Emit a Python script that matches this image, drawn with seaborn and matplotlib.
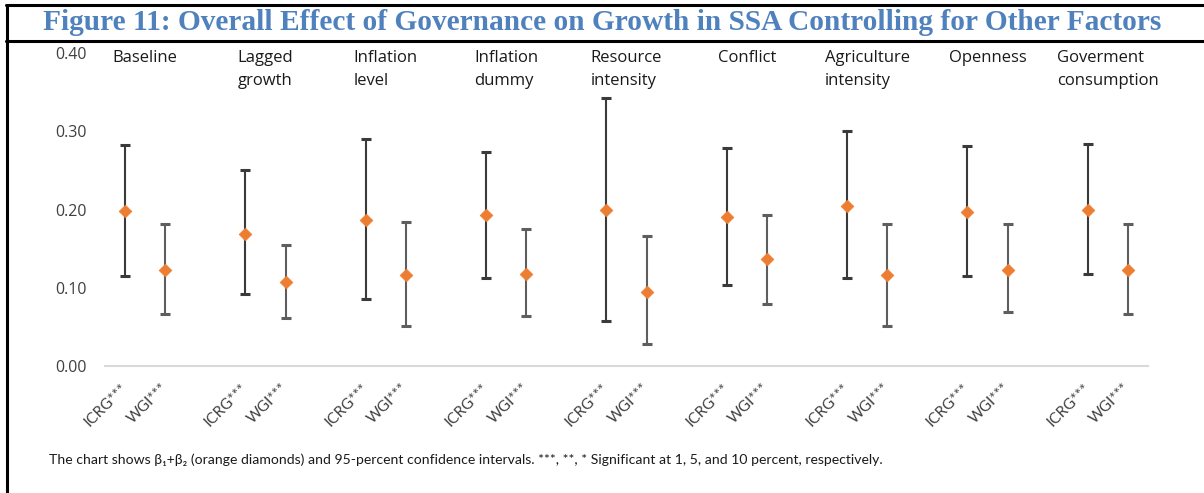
import matplotlib
matplotlib.use("Agg")
import matplotlib.pyplot as plt
from matplotlib.lines import Line2D
import matplotlib.transforms as mtransforms
import numpy as np
import pandas as pd
import seaborn as sns

# Specifications (one group per control variable)
groups = ["Baseline", "Lagged\ngrowth", "Inflation\nlevel", "Inflation\ndummy",
          "Resource\nintensity", "Conflict", "Agriculture\nintensity", "Openness",
          "Goverment\nconsumption"]
indices = ["ICRG", "WGI"]
tick_labels = ["ICRG***", "WGI***"]

# Point estimates (beta1 + beta2) and 95% confidence bounds
icrg_est = [0.198, 0.169, 0.187, 0.193, 0.200, 0.190, 0.205, 0.197, 0.200]
icrg_low = [0.115, 0.092, 0.086, 0.113, 0.058, 0.103, 0.113, 0.115, 0.117]
icrg_high = [0.282, 0.250, 0.290, 0.274, 0.342, 0.278, 0.300, 0.281, 0.284]

wgi_est = [0.123, 0.107, 0.116, 0.117, 0.095, 0.137, 0.116, 0.123, 0.123]
wgi_low = [0.067, 0.061, 0.051, 0.064, 0.028, 0.079, 0.051, 0.069, 0.067]
wgi_high = [0.181, 0.155, 0.184, 0.175, 0.166, 0.193, 0.182, 0.181, 0.182]

yticks = [0.00, 0.10, 0.20, 0.30, 0.40]

footnote = ("The chart shows \u03b2\u2081+\u03b2\u2082 (orange diamonds) and 95-percent confidence "
            "intervals. ***, **, * Significant at 1, 5, and 10 percent, respectively.")
title = "Figure 11: Overall Effect of Governance on Growth in SSA Controlling for Other Factors"

# Long-form table: each group occupies two slots followed by an empty slot
rows = []
for g, name in enumerate(groups):
    for k, (idx, est, lo, hi) in enumerate([
        ("ICRG", icrg_est[g], icrg_low[g], icrg_high[g]),
        ("WGI", wgi_est[g], wgi_low[g], wgi_high[g]),
    ]):
        rows.append({"group": name, "index": idx, "pos": g * 3 + k,
                     "est": est, "low": lo, "high": hi,
                     "label": tick_labels[k]})
df = pd.DataFrame(rows)

sns.set_theme(style="white")
plt.rcParams["font.family"] = ["Open Sans", "DejaVu Sans"]

W, H = 1204, 493
fig = plt.figure(figsize=(W / 100, H / 100), dpi=100)
ax = fig.add_axes([105 / W, 1 - 366 / H, (1148 - 105) / W, (366 - 53) / H])

# Confidence intervals: whisker lines slightly lighter for WGI, dark caps
for idx, line_color in [("ICRG", "#3a3a3a"), ("WGI", "#5e5e5e")]:
    sub = df[df["index"] == idx]
    eb = ax.errorbar(sub["pos"], sub["est"],
                     yerr=[sub["est"] - sub["low"], sub["high"] - sub["est"]],
                     fmt="none", ecolor=line_color, elinewidth=1.5, capsize=3.7,
                     capthick=2.2, zorder=2)
    for cap in eb[1]:
        cap.set_color("#3a3a3a")

# Point estimates as orange diamonds
sns.scatterplot(data=df, x="pos", y="est", marker="D", s=42, color="#ED7D31",
                edgecolor="#ED7D31", linewidth=0.5, ax=ax, zorder=3, legend=False)

ax.set_xlim(-0.5, len(groups) * 3 - 1.5)
ax.set_ylim(0, 0.40)
ax.set_yticks(yticks)
ax.set_yticklabels([f"{v:.2f}" for v in yticks], fontsize=11.5, color="#404040")
ax.tick_params(axis="y", length=0, pad=13)
ax.set_xticks(df["pos"])
ax.set_xticklabels(df["label"], rotation=45, ha="right", va="center",
                   rotation_mode="anchor", fontsize=11,
                   family=["Lato", "DejaVu Sans"], color="#404040")
ax.tick_params(axis="x", length=0, pad=14)
ax.set_xlabel("")
ax.set_ylabel("")
for side in ["top", "right", "left"]:
    ax.spines[side].set_visible(False)
ax.spines["bottom"].set_color("#d9d9d9")
ax.spines["bottom"].set_linewidth(1.5)

# Group headings above each pair of intervals
trans = mtransforms.blended_transform_factory(ax.transData, fig.transFigure)
for g, name in enumerate(groups):
    ax.text(g * 3 + 0.5, 1 - 50 / H, name, transform=trans, ha="center", va="top",
            multialignment="left", fontsize=12, color="#1a1a1a", linespacing=1.55)

# Title band and frame
fig.text(0.5, 1 - 22 / H, title, ha="center", va="center", fontsize=21.2,
         fontweight="bold", family=["Liberation Serif", "DejaVu Serif"], color="#4F81BD")
fig.add_artist(Line2D([6 / W, 1], [1 - 4.5 / H, 1 - 4.5 / H], color="black", lw=2.2))
fig.add_artist(Line2D([6 / W, 1], [1 - 40.5 / H, 1 - 40.5 / H], color="black", lw=2.2))
fig.add_artist(Line2D([7 / W, 7 / W], [0, 1 - 4.5 / H], color="black", lw=2.2))

# Footnote
fig.text(49 / W, 1 - 460 / H, footnote, ha="left", va="center", fontsize=10.1,
         family=["Lato", "DejaVu Sans"], color="#1a1a1a")

fig.savefig("out.png", dpi=100)
